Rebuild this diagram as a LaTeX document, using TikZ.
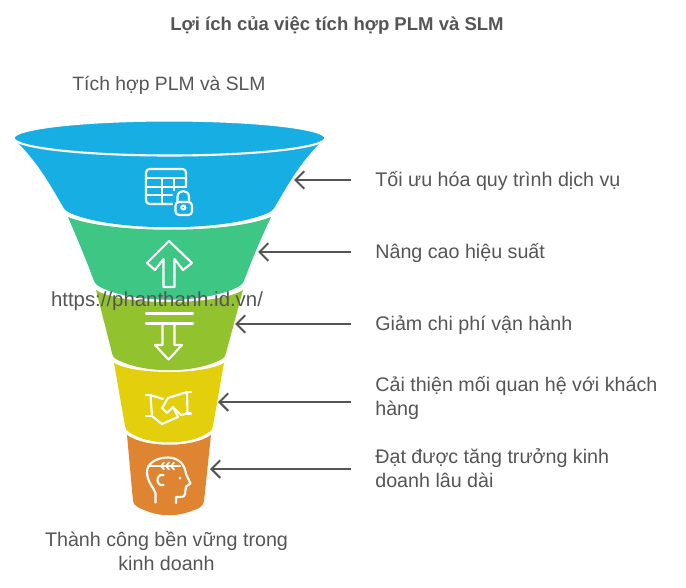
\documentclass[tikz,border=0pt]{standalone}
\usepackage{xcolor}
\usepackage{fontspec}
\setmainfont{Liberation Sans}
\usetikzlibrary{arrows.meta,positioning}
\definecolor{cblue}{HTML}{17AEE3}
\definecolor{cgreen}{HTML}{3EC685}
\definecolor{colive}{HTML}{93C22F}
\definecolor{cyellow}{HTML}{E3CF0B}
\definecolor{corange}{HTML}{DF8431}
\definecolor{ctext}{HTML}{555555}

\begin{document}
\begin{tikzpicture}[
	x = 0.02cm,
	y = -0.02cm,
	txt/.style = {text=ctext,font=\fontsize{11.2}{13.66}\selectfont,align=center,inner sep=0pt},
	opt/.style = {txt,align=left,anchor=west,inner xsep=0.48cm},
	pointer/.style = {-{Straight Barb[length=5pt,width=10pt,line width=1.15pt]},ctext,line width=1.15pt},
	icon/.style = {white,line width=1.2pt,line join=round,line cap=round}
	]
	\useasboundingbox (0,0) rectangle (686,588);

	% funnel
	\fill[corange] (127,435) .. controls (145,448) and (193,448) .. (211,435) -- (204,501) .. controls (203,507) and (198,509) .. (194,510) .. controls (178,517) and (160,517) .. (144,510) .. controls (139,508) and (134,506) .. (133,501) -- cycle;
	\fill[cyellow] (114,363) .. controls (135,375) and (203,375) .. (224,363) -- (213,426) .. controls (212,430) and (211,431) .. (209,432) .. controls (190,446) and (148,446) .. (129,432) .. controls (127,431) and (126,430) .. (125,426) -- cycle;
	\fill[colive] (96,290) .. controls (120,306) and (218,306) .. (243,290) -- (226,353) .. controls (225,357) and (224,358) .. (222,359) .. controls (195,374) and (143,374) .. (116,359) .. controls (114,358) and (113,357) .. (112,353) -- cycle;
	\fill[cgreen] (68,217) .. controls (110,234) and (229,234) .. (271,217) .. controls (258,245) and (251,262) .. (244,281) .. controls (243,284) and (241,285) .. (238,287) .. controls (205,304) and (133,304) .. (100,287) .. controls (97,285) and (95,284) .. (94,281) .. controls (87,262) and (80,245) .. (68,217) -- cycle;
	\fill[cblue] (18,143) -- (320,143) .. controls (298,165) and (285,190) .. (276,205) .. controls (274,209) and (272,211) .. (268,213) .. controls (225,232) and (113,232) .. (70,213) .. controls (66,211) and (64,209) .. (62,205) .. controls (53,190) and (40,165) .. (18,143) -- cycle;
	\draw[white,line width=1.2pt,fill=cblue] (169.5,138) ellipse [x radius=156,y radius=17.5];

	% table with lock
	\draw[icon,rounded corners=2pt] (175,204) -- (146,204) -- (146,169) -- (186,169) -- (186,187);
	\draw[icon] (146,178) -- (186,178) (146,187) -- (186,187) (146,195) -- (172,195) (162,178) -- (162,204) (174,178) -- (174,190);
	\fill[cblue] (173,193) rectangle (194,217);
	\draw[icon,rounded corners=2pt] (175.5,202) rectangle (192,215);
	\draw[icon] (177.5,202) -- (177.5,197) .. controls (177.5,189) and (189,189) .. (189,197) -- (189,202);
	\draw[icon] (183.3,207.5) circle (2);

	% arrow up
	\draw[icon] (169,241) -- (192,263) -- (183,270) -- (174.5,259) -- (174.5,287) -- (163.5,287) -- (163.5,259) -- (155,270) -- (147,263) -- cycle;

	% arrow down
	\draw[icon] (146,313.5) -- (193,313.5) (146,323.5) -- (193,323.5);
	\draw[icon] (162.5,323.5) -- (162.5,345) -- (155,345) -- (168.5,359.5) -- (182,345) -- (174.5,345) -- (174.5,323.5);

	% handshake
	\draw[icon] (146,395) -- (151,395) (146,416) -- (152,416) (186,392) -- (191,392) (186,413.5) -- (191,413.5);
	\draw[icon] (150.5,395) -- (152,416) -- (162,424) -- (178,417) -- (173,407);
	\draw[icon] (150.5,395) -- (163,399) (187,392) -- (187.5,413.5) -- (181,415) -- (173,407) -- (167,413) -- (162,408) -- (168,398) -- cycle;

	% head
	\draw[icon] (155.5,502.5) -- (155.5,493) .. controls (154,488) and (147,482) .. (147,472) .. controls (147,463) and (157,457.5) .. (168,457.5) .. controls (178,457.5) and (185,464) .. (186,474) -- (190.5,483.5) -- (186,486.5) -- (185,494) .. controls (185,496) and (183,497) .. (181,497) -- (176,497) -- (176,503);
	\draw[icon] (148,466) -- (180,466);
	\foreach \i in {161,166,171}{
		\draw[icon,line width=1pt] (\i+3,462.5) -- (\i,466) -- (\i+3,469.5);
	}
	\draw[icon] (163.5,475) .. controls (155.5,473) and (155.5,487) .. (163.5,485);
	\fill[white] (180,478) circle (1.5);

	% texts
	\node[txt,font=\fontsize{10.55}{13}\selectfont\bfseries] (title) at (337,25) {Lợi ích của việc tích hợp PLM và SLM};
	\node[txt,font=\fontsize{11}{13.66}\selectfont] (top) at (169,85) {Tích hợp PLM và SLM};
	\node[txt] (bottom) at (166.5,551) {Thành công bền vững trong\\kinh doanh};
	\node[txt,font=\fontsize{11.6}{13.66}\selectfont] (link) at (157,301) {https://phanthanh.id.vn/};

	\node[opt] (optA) at (351,181) {Tối ưu hóa quy trình dịch vụ};
	\node[opt] (optB) at (351,253) {Nâng cao hiệu suất};
	\node[opt] (optC) at (351,325) {Giảm chi phí vận hành};
	\node[opt] (optD) at (351,398) {Cải thiện mối quan hệ với khách\\hàng};
	\node[opt] (optE) at (351,468) {Đạt được tăng trưởng kinh\\doanh lâu dài};

	\coordinate (tipA) at (294,180);
	\coordinate (tipB) at (258,252);
	\coordinate (tipC) at (235,324);
	\coordinate (tipD) at (218,402);
	\coordinate (tipE) at (210,469);

	\foreach \n in {A,B,C,D,E}{
		\draw[pointer] (opt\n.west |- tip\n) -- (tip\n);
	}
\end{tikzpicture}
\end{document}
